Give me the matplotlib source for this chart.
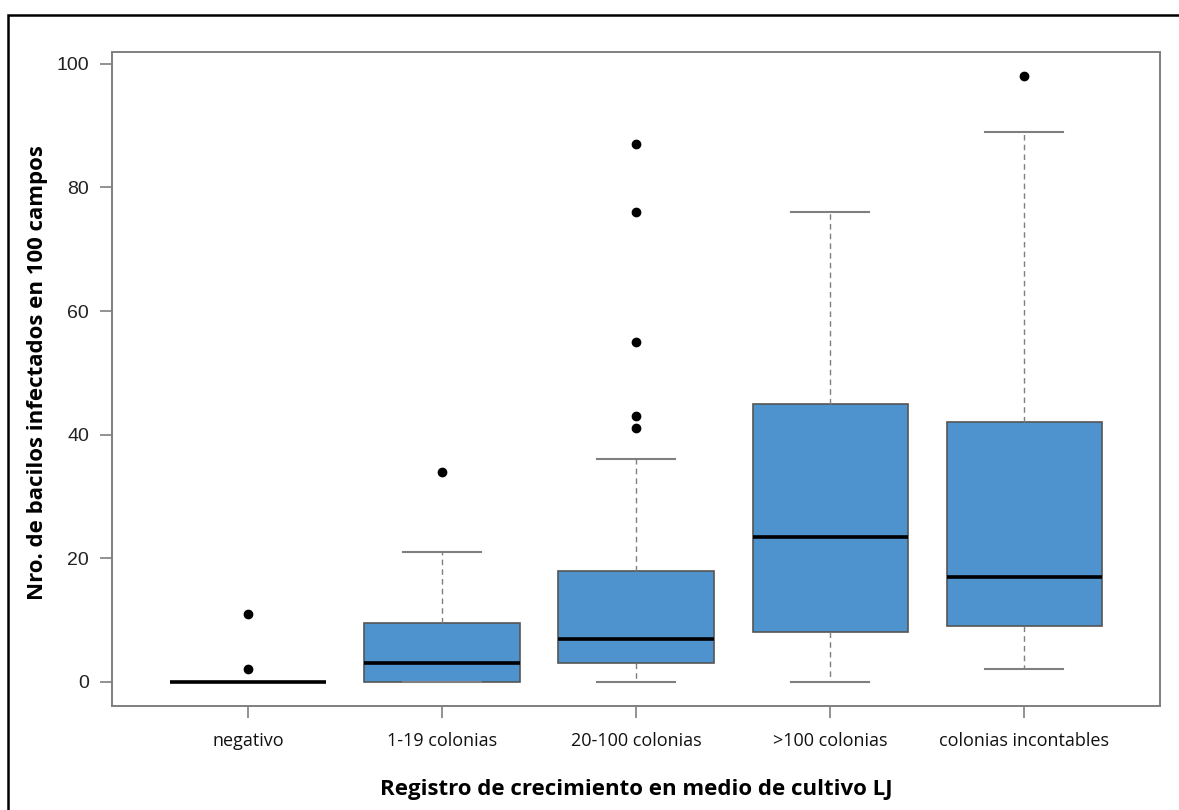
#Header files
import matplotlib
matplotlib.use("Agg")
import matplotlib.pyplot as plt
from matplotlib.patches import Rectangle

#Data
categories = ["negativo", "1-19 colonias", "20-100 colonias", ">100 colonias", "colonias incontables"]
q1 = [0, 0, 3, 8, 9]
medians = [0, 3, 7, 23.5, 17]
q3 = [0, 9.5, 18, 45, 42]
whisker_low = [0, 0, 0, 0, 2]
whisker_high = [0, 21, 36, 76, 89]
outliers = [[2, 11], [34], [41, 43, 55, 76, 87], [], [98]]
yticks = [0, 20, 40, 60, 80, 100]

boxColor = "#4F93CE"
gray = "#7f7f7f"

#Stats for bxp
stats = []
for i in range(len(categories)):
	stats.append({
		"label": categories[i],
		"q1": q1[i],
		"med": medians[i],
		"q3": q3[i],
		"whislo": whisker_low[i],
		"whishi": whisker_high[i],
		"fliers": outliers[i],
	})

fig = plt.figure(figsize=(11.79, 8.10), dpi=100)
ax = fig.add_axes([0.095, 0.1284, 0.889, 0.8074])

ax.bxp(stats, positions=range(1, 6), widths=0.8, patch_artist=True,
	boxprops=dict(facecolor=boxColor, edgecolor="#555555", linewidth=1.2),
	medianprops=dict(color="black", linewidth=2.6),
	whiskerprops=dict(color=gray, linestyle=(0, (4, 3)), linewidth=1.0),
	capprops=dict(color=gray, linewidth=1.5),
	capwidths=0.4,
	flierprops=dict(marker="o", markerfacecolor="black", markeredgecolor="black", markersize=6))

ax.set_xlim(0.30, 5.70)
ax.set_ylim(-3.92, 101.92)
ax.set_yticks(yticks)
ax.set_yticklabels([str(v) for v in yticks], fontsize=14, family="Liberation Sans", color="#222222")
ax.set_xticks(range(1, 6))
ax.set_xticklabels(categories, fontsize=13, family="Open Sans", color="#111111")
ax.tick_params(axis="both", direction="out", length=8.5, width=1.2, color=gray)
ax.tick_params(axis="y", pad=8)
ax.tick_params(axis="x", pad=10)
for s in ax.spines.values():
	s.set_color(gray)
	s.set_linewidth(1.4)

ax.set_ylabel("Nro. de bacilos infectados en 100 campos", fontsize=16, fontweight="bold", family="Open Sans", labelpad=6)
ax.yaxis.label.set_y(0.51)
ax.set_xlabel("Registro de crecimiento en medio de cultivo LJ", fontsize=16, fontweight="bold", family="Open Sans", labelpad=21)

#Frame round the figure
fig.patches.append(Rectangle((0.0068, -0.1), 1.2, 1.0815, transform=fig.transFigure,
	fill=False, edgecolor="black", linewidth=1.8))

fig.savefig("out.png", dpi=100)
